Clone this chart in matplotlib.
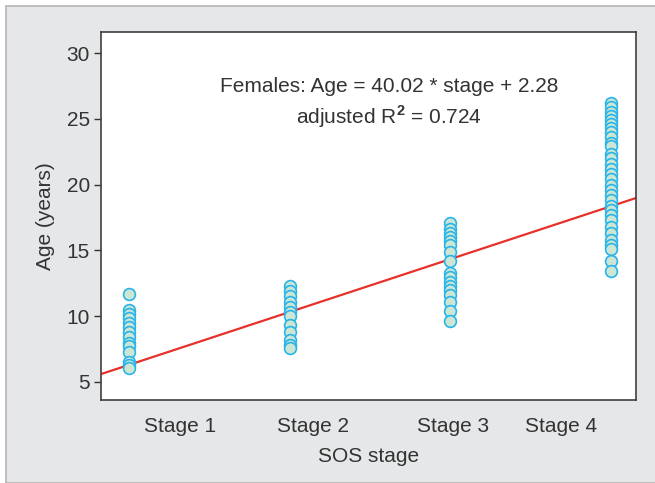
import matplotlib
matplotlib.use("Agg")
import matplotlib.pyplot as plt
from matplotlib.patches import Rectangle

plt.rcParams["font.family"] = ["Liberation Sans", "DejaVu Sans"]
plt.rcParams["mathtext.fontset"] = "custom"
plt.rcParams["mathtext.rm"] = "Liberation Sans"
plt.rcParams["mathtext.bf"] = "Liberation Sans:bold"

# ages, one list per SOS stage
stage1 = [11.7, 10.5, 10.2, 9.9, 9.5, 9.2, 8.8, 8.4, 8.0, 7.7, 7.3, 6.5, 6.3, 6.1]
stage2 = [12.3, 11.9, 11.5, 11.1, 10.7, 10.3, 10.0, 9.3, 8.8, 8.2, 7.8, 7.6]
stage3 = [17.1, 16.6, 16.3, 16.0, 15.7, 15.4, 14.9, 14.2, 13.3, 13.0, 12.6,
          12.3, 12.0, 11.6, 11.1, 10.4, 9.6]
stage4 = [26.2, 25.9, 25.5, 25.2, 24.9, 24.6, 24.3, 24.0, 23.6, 23.2, 22.9,
          22.3, 22.0, 21.6, 21.2, 20.8, 20.4, 20.0, 19.6, 19.2, 18.8, 18.4,
          18.1, 17.7, 17.3, 16.8, 16.3, 15.8, 15.4, 15.1, 14.2, 13.4]
stages = [1, 2, 3, 4]
ages = [stage1, stage2, stage3, stage4]

# fitted line
slope, intercept = 4.02, 2.28

stage_labels = ["Stage 1", "Stage 2", "Stage 3", "Stage 4"]
label_pos = [1.317, 2.143, 3.019, 3.689]
yticks = [5, 10, 15, 20, 25, 30]

txt = "#333333"
fig = plt.figure(figsize=(6.55, 4.83), dpi=100)
fig.patches.append(Rectangle((6 / 655, 0), 1, 1 - 6 / 483, transform=fig.transFigure,
                             facecolor="#e6e7e8", edgecolor="#b5b5b5", lw=1.2, zorder=-1))

ax = fig.add_axes([101 / 655, 1 - 400 / 483, 535 / 655, 368 / 483])
ax.set_facecolor("white")

for s, vals in zip(stages, ages):
    ax.scatter([s] * len(vals), vals, s=72, facecolor="#cde6d4", edgecolor="#27b4ea",
               linewidth=1.2, zorder=3)

x0, x1 = 0.826, 4.155
ax.plot([x0, x1], [slope * x0 + intercept, slope * x1 + intercept],
        color="#e8302a", lw=1.6, zorder=2)

ax.set_xlim(x0, x1)
ax.set_ylim(3.63, 31.6)
ax.set_yticks(yticks)
ax.set_xticks(label_pos)
ax.set_xticklabels(stage_labels)
ax.tick_params(axis="x", length=0, pad=12, labelsize=15, colors=txt)
ax.tick_params(axis="y", length=5, width=1, pad=3, labelsize=15, colors=txt)
for sp in ax.spines.values():
    sp.set_color("#404040")
    sp.set_linewidth(1.2)

ax.set_xlabel("SOS stage", fontsize=15, color=txt, labelpad=8)
ax.set_ylabel("Age (years)", fontsize=15, color=txt, labelpad=8)

ax.text(2.618, 27.42, "Females: Age = 40.02 * stage + 2.28", ha="center", va="center",
        fontsize=15, color=txt)
ax.text(2.618, 25.2, r"adjusted R$^{\mathbf{2}}$ = 0.724", ha="center", va="center",
        fontsize=15, color=txt)

fig.savefig("out.png", dpi=100)
